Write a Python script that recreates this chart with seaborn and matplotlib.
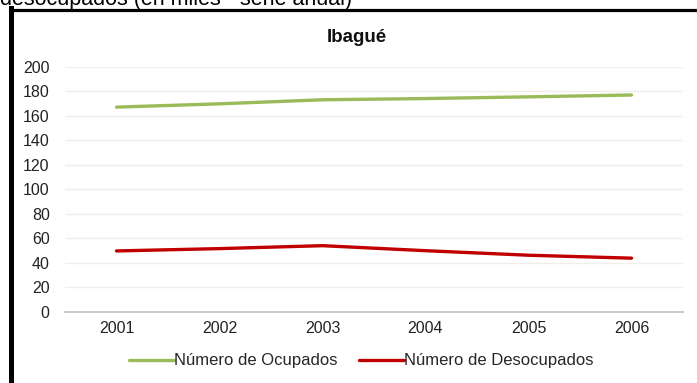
import matplotlib
matplotlib.use("Agg")
import matplotlib.pyplot as plt
from matplotlib.lines import Line2D
import seaborn as sns
import pandas as pd

years = ["2001", "2002", "2003", "2004", "2005", "2006"]
ocupados = [167.0, 169.7, 173.0, 174.0, 175.4, 176.9]
desocupados = [49.6, 51.5, 53.9, 49.8, 46.1, 43.7]
series_names = ["Número de Ocupados", "Número de Desocupados"]
series_colors = ["#9BBB59", "#C00000"]

df = pd.DataFrame({
    "Año": years * 2,
    "Valor": ocupados + desocupados,
    "Serie": [series_names[0]] * len(years) + [series_names[1]] * len(years),
})

sns.set_theme(style="white")
plt.rcParams["font.family"] = ["Liberation Sans", "DejaVu Sans"]

W, H = 697, 383
fig = plt.figure(figsize=(W / 100, H / 100), dpi=100)
ax = fig.add_axes([65 / W, 1 - 311.7 / H, (683 - 65) / W, (311.7 - 66.7) / H])

sns.lineplot(data=df, x="Año", y="Valor", hue="Serie", palette=series_colors,
             linewidth=2.4, ax=ax, legend=False, sort=False)

ax.set_xlim(-0.5, len(years) - 0.5)
ax.set_ylim(0, 200)
ax.set_yticks(range(0, 201, 20))
ax.set_xlabel("")
ax.set_ylabel("")
ax.grid(axis="y", color="#EFEEE8", linewidth=1.0)
ax.set_axisbelow(True)
for side in ["top", "right", "left"]:
    ax.spines[side].set_visible(False)
ax.spines["bottom"].set_color("#BFBFBF")
ax.spines["bottom"].set_linewidth(1.2)
ax.tick_params(axis="both", length=0, labelsize=11.5, colors="#222222")
ax.tick_params(axis="y", pad=11)
ax.tick_params(axis="x", pad=7)

# chart title
fig.text(357 / W, 1 - 37 / H, "Ibagué", ha="center", va="center",
         fontsize=13.5, fontweight="bold", color="#111111")

# caption line running off the top edge
fig.text(0.0, 1 - 4.5 / H, "desocupados (en miles - serie anual)", ha="left",
         va="baseline", fontsize=15.5, color="#000000")

# outer frame (left and top edges)
fig.add_artist(Line2D([10.8 / W, 10.8 / W], [0, 1 - 8 / H], transform=fig.transFigure,
                      color="black", linewidth=3.6, solid_capstyle="projecting"))
fig.add_artist(Line2D([10.8 / W, 1.0], [1 - 9.5 / H, 1 - 9.5 / H], transform=fig.transFigure,
                      color="black", linewidth=2.3, solid_capstyle="butt"))

handles = [Line2D([], [], color=c, linewidth=2.4) for c in series_colors]
fig.legend(handles, series_names, loc="center", bbox_to_anchor=(361 / W, 1 - 361 / H),
           ncol=2, frameon=False, fontsize=12, handlelength=2.7, handletextpad=0.0,
           columnspacing=1.3)

fig.savefig("out.png", dpi=100)
